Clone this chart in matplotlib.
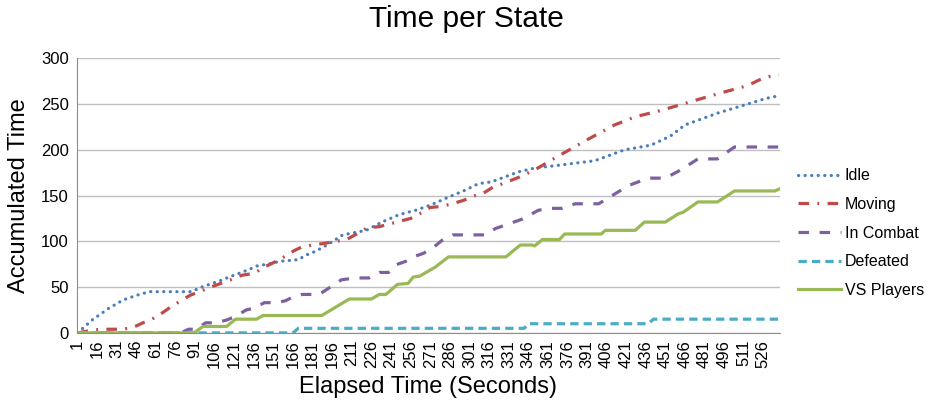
import numpy as np
import matplotlib.pyplot as plt

plt.rcParams['font.family'] = ['Liberation Sans', 'DejaVu Sans']

# breakpoints: (elapsed second, accumulated time)
idle_t = [1, 12, 25, 36, 46, 56, 88, 96, 112, 117, 132, 138, 150, 155, 170, 176, 183, 192, 204,
          211, 222, 234, 247, 260, 272, 283, 298, 308, 318, 339, 351, 369, 397, 420, 440, 455,
          466, 491, 512, 528, 538]
idle_v = [0, 14, 27, 36, 41, 45, 45, 50, 58, 61, 69, 73, 76, 78, 80, 85, 89, 96, 107,
          109, 112, 121, 129, 134, 140, 147, 156, 163, 165, 176, 180, 183, 188, 200, 205, 215,
          227, 240, 249, 256, 259]

moving_t = [1, 12, 20, 36, 45, 51, 58, 66, 73, 80, 87, 96, 103, 120, 127, 136, 144, 150, 158,
            167, 173, 181, 191, 199, 207, 216, 223, 232, 240, 248, 256, 264, 271, 279, 288,
            297, 303, 311, 320, 323, 339, 351, 369, 390, 412, 428, 448, 474, 496, 514, 527, 538]
moving_v = [0, 3, 4, 4, 7, 11, 15, 22, 29, 35, 41, 46, 50, 59, 63, 65, 72, 76, 82,
            90, 94, 96, 98, 100, 102, 109, 115, 116, 119, 122, 125, 131, 137, 138, 141,
            145, 149, 152, 160, 161, 170, 178, 193, 210, 227, 236, 243, 254, 263, 270, 279, 282]

combat_t = [1, 80, 86, 92, 99, 107, 115, 122, 130, 136, 144, 153, 160, 167, 173, 186, 203, 214,
            224, 232, 239, 244, 252, 260, 266, 274, 280, 288, 313, 321, 341, 354, 364, 372,
            382, 400, 415, 423, 438, 451, 463, 476, 491, 504, 538]
combat_v = [0, 0, 4, 4, 11, 11, 14, 18, 25, 27, 33, 33, 35, 40, 42, 42, 58, 60,
            60, 66, 66, 74, 78, 84, 87, 94, 101, 107, 107, 114, 124, 134, 136, 136,
            141, 141, 154, 161, 169, 169, 178, 190, 190, 203, 203]

defeated_t = [1, 166, 170, 343, 346, 438, 442, 538]
defeated_v = [0, 0, 5, 5, 10, 10, 15, 15]

vs_t = [1, 90, 97, 115, 122, 138, 143, 188, 209, 226, 232, 237, 246, 254, 258, 263, 275, 285,
        329, 340, 349, 351, 357, 370, 374, 402, 405, 428, 435, 451, 461, 465, 476, 491, 504,
        535, 538]
vs_v = [0, 0, 7, 7, 15, 15, 19, 19, 37, 37, 42, 42, 53, 54, 61, 62, 72, 83,
        83, 96, 96, 95, 102, 102, 108, 108, 112, 112, 121, 121, 130, 132, 143, 143, 155,
        155, 157]

names = ['Idle', 'Moving', 'In Combat', 'Defeated', 'VS Players']
colors = ['#4A7EBB', '#BE4B48', '#7D60A0', '#4BACC6', '#98B954']
xticks = np.arange(1, 527, 15)

fig = plt.figure(figsize=(9.33, 4.04), dpi=100)
ax = fig.add_axes([0.0825, 0.176, 0.753, 0.68])

lw = 2.3
ax.plot(idle_t, idle_v, color=colors[0], lw=lw, dashes=(0.05, 2.0),
        dash_capstyle='round', label=names[0])
ax.plot(moving_t, moving_v, color=colors[1], lw=lw, dashes=(3.3, 2.6, 0.6, 2.6),
        label=names[1])
ax.plot(combat_t, combat_v, color=colors[2], lw=lw, dashes=(3.3, 3.3), label=names[2])
ax.plot(defeated_t, defeated_v, color=colors[3], lw=lw, dashes=(2.6, 1.6), label=names[3])
ax.plot(vs_t, vs_v, color=colors[4], lw=lw, label=names[4])

ax.set_xlim(0.5, 538.5)
ax.set_ylim(0, 300)
ax.set_yticks(range(0, 301, 50))
ax.set_xticks(xticks)
ax.set_xticklabels([str(x) for x in xticks], rotation=90)
ax.tick_params(axis='both', length=0, labelsize=12, pad=6)
ax.tick_params(axis='x', pad=5)
ax.grid(axis='y', color='#BFBFBF', lw=1)
ax.set_axisbelow(True)
for s in ['top', 'right']:
    ax.spines[s].set_visible(False)
for s in ['left', 'bottom']:
    ax.spines[s].set_color('#8C8C8C')

# title sits centred on the whole chart, not on the plot area
fig.text(0.5, 0.953, 'Time per State', fontsize=21.5, ha='center', va='center')
ax.set_xlabel('Elapsed Time (Seconds)', fontsize=17, labelpad=6)
ax.set_ylabel('Accumulated Time', fontsize=17, labelpad=8)

fig.legend(loc='center left', bbox_to_anchor=(0.847, 0.423), frameon=False,
           fontsize=11.5, handlelength=2.7, labelspacing=0.85, handletextpad=0.2,
           borderpad=0)

fig.savefig('out.png', dpi=100)
